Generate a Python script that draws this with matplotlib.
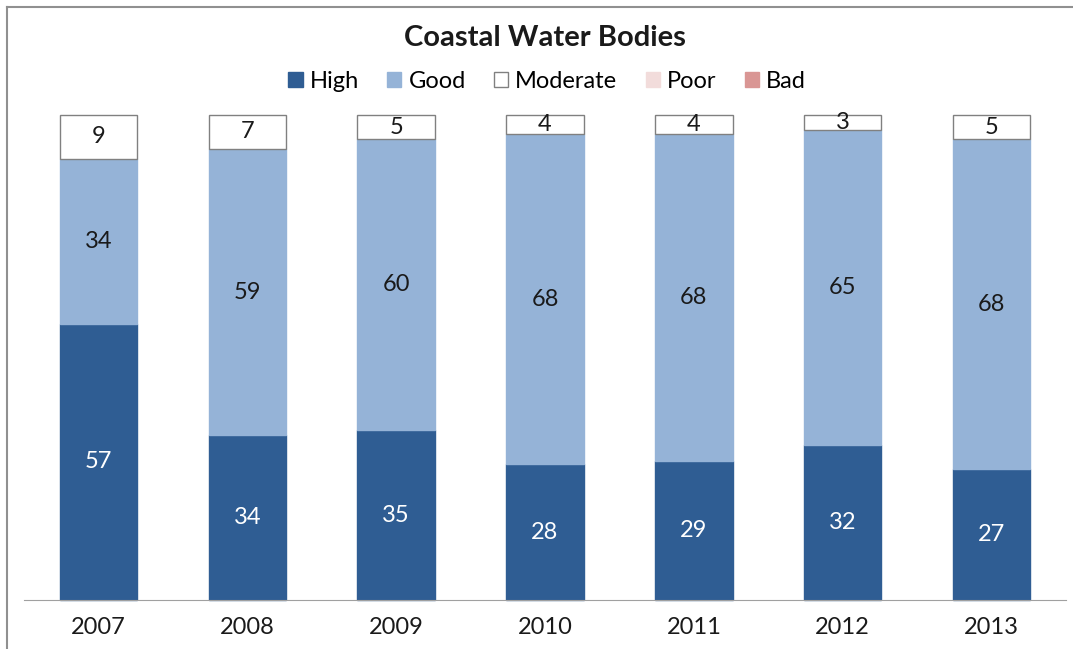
import matplotlib.pyplot as plt
import numpy as np
from matplotlib.patches import Patch

plt.rcParams['font.family'] = ['Lato', 'DejaVu Sans']

years = ['2007', '2008', '2009', '2010', '2011', '2012', '2013']
high = [57, 34, 35, 28, 29, 32, 27]
good = [34, 59, 60, 68, 68, 65, 68]
moderate = [9, 7, 5, 4, 4, 3, 5]
poor = [0, 0, 0, 0, 0, 0, 0]
bad = [0, 0, 0, 0, 0, 0, 0]

fig = plt.figure(figsize=(10.73, 6.49), dpi=100)
ax = fig.add_axes([24 / 1073, 49 / 649, 1042 / 1073, 485 / 649])

x = np.arange(len(years))
w = 0.52
series = [
    ('High', high, '#2F5D93', '#2F5D93', 'white'),
    ('Good', good, '#95B3D7', '#95B3D7', '#1a1a1a'),
    ('Moderate', moderate, 'white', '#808080', '#1a1a1a'),
    ('Poor', poor, '#F2DCDB', '#F2DCDB', '#1a1a1a'),
    ('Bad', bad, '#D99694', '#D99694', '#1a1a1a'),
]
# 100% stacked: each bar scaled to its own total
total = np.sum([np.array(s[1], dtype=float) for s in series], axis=0)
bottom = np.zeros(len(years))
handles = []
for name, vals, fc, ec, tc in series:
    vals = np.array(vals, dtype=float)
    h = vals / total * 100
    handles.append(Patch(facecolor=fc, edgecolor=ec, label=name))
    keep = vals > 0
    if keep.any():
        ax.bar(x[keep], h[keep], w, bottom=bottom[keep], color=fc,
               edgecolor=ec, linewidth=1.0, clip_on=False)
    for xi, b, v, hh in zip(x, bottom, vals, h):
        if v > 0:
            ax.text(xi, b + hh / 2, f'{v:.0f}', ha='center', va='center',
                    fontsize=17, color=tc)
    bottom += h

ax.set_xlim(-0.5, len(years) - 0.5)
ax.set_ylim(0, 100)
ax.set_xticks(x)
ax.set_xticklabels(years, fontsize=17, color='#1a1a1a')
ax.tick_params(axis='x', length=0, pad=12)
ax.set_yticks([])
for s in ['top', 'right', 'left']:
    ax.spines[s].set_visible(False)
ax.spines['bottom'].set_color('#a0a0a0')

fig.text(0.508, 0.942, 'Coastal Water Bodies', ha='center', va='center',
         fontsize=21, fontweight='bold', color='#1a1a1a')
fig.legend(handles=handles, loc='center', bbox_to_anchor=(0.51, 0.874),
           ncol=5, frameon=False, fontsize=17, handlelength=0.6,
           handleheight=0.6, handletextpad=0.3, columnspacing=1.2)

# outer frame
fig.add_artist(plt.Line2D([7 / 1073, 7 / 1073], [0, 1 - 7 / 649],
                          color='#909090', linewidth=1.5))
fig.add_artist(plt.Line2D([7 / 1073, 1], [1 - 7 / 649, 1 - 7 / 649],
                          color='#909090', linewidth=1.5))

fig.savefig('out.png', dpi=100)
